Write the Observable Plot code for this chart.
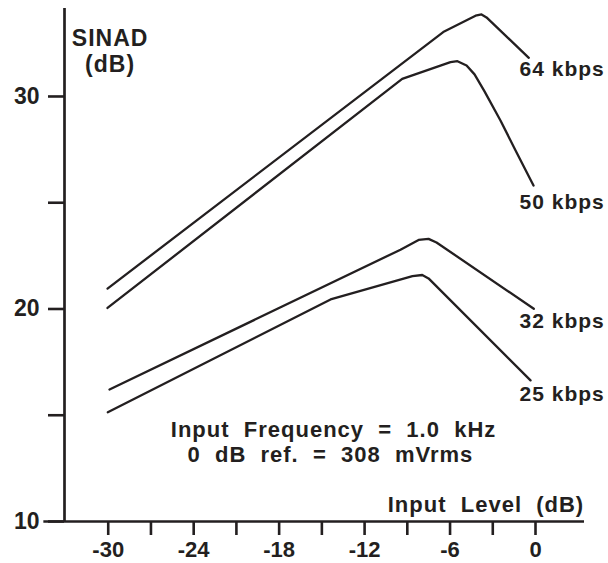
<!DOCTYPE html>
<html>
<head>
<meta charset="utf-8">
<script src="https://cdn.jsdelivr.net/npm/d3@7"></script>
<script src="https://cdn.jsdelivr.net/npm/@observablehq/plot@0.6"></script>
<style>
  html, body { margin: 0; padding: 0; background: #fff; }
  svg text { white-space: pre; }
  svg g[aria-label="text"] text { letter-spacing: 1px; }
</style>
</head>
<body>
<div id="chart"></div>
<script>
// Series (bit rates) and their curves: input level (dB) vs SINAD (dB)
const series = ["64 kbps", "50 kbps", "32 kbps", "25 kbps"];
const level64 = [-30.05, -6.48, -4.21, -3.79, -3.44, -0.47];
const sinad64 = [20.96, 33.03, 33.80, 33.86, 33.72, 31.82];
const level50 = [-30.05, -9.36, -5.97, -5.48, -4.84, -4.28, -3.58, -2.46, -1.40, -0.14];
const sinad50 = [20.05, 30.83, 31.62, 31.66, 31.46, 31.04, 30.24, 28.87, 27.46, 25.81];
const level32 = [-29.91, -9.48, -8.21, -7.51, -6.95, -0.12];
const sinad32 = [16.21, 22.79, 23.25, 23.30, 23.13, 20.01];
const level25 = [-30.03, -14.39, -8.64, -7.95, -7.51, -0.35];
const sinad25 = [15.14, 20.45, 21.55, 21.60, 21.44, 16.64];

// Series label anchor positions (data coords)
const labelLevel = [-1.12, -1.12, -1.12, -1.12];
const labelSinad = [31.26, 25.00, 19.44, 16.01];

// Axis ticks
const xTicks = [-30, -27, -24, -21, -18, -15, -12, -9, -6, -3, 0];
const xTickLabels = [-30, -24, -18, -12, -6, 0];
const yTicks = [10, 15, 20, 25, 30];
const yTickLabels = [10, 20, 30];

// Domains
const xDomain = [-33.07, 3.44];
const yDomain = [10, 34.14];

// Annotations
const yTitle = ["SINAD", "(dB)"];
const xTitle = "Input  Level  (dB)";
const note = ["Input  Frequency  =  1.0  kHz", "0  dB  ref.  =  308  mVrms"];

const levels = [level64, level50, level32, level25];
const sinads = [sinad64, sinad50, sinad32, sinad25];
const curves = series.flatMap((s, i) => levels[i].map((x, j) => ({series: s, level: x, sinad: sinads[i][j]})));
const labels = series.map((s, i) => ({series: s, level: labelLevel[i], sinad: labelSinad[i]}));

const ink = "#231f20";

const chart = Plot.plot({
  width: 608,
  height: 563,
  marginLeft: 64,
  marginRight: 24,
  marginTop: 8,
  marginBottom: 42,
  style: {fontFamily: "'Liberation Sans', Arial, Helvetica, sans-serif", fontWeight: "bold", background: "#fff", color: ink},
  x: {domain: xDomain},
  y: {domain: yDomain},
  marks: [
    Plot.axisX({ticks: xTicks, tickSize: 14, tickPadding: 6, fontSize: 22, strokeWidth: 2.6, stroke: ink,
      tickFormat: d => xTickLabels.includes(d) ? String(d) : "", label: null}),
    Plot.axisY({ticks: yTicks, tickSize: 16, tickPadding: 9, fontSize: 23, strokeWidth: 2.6, stroke: ink,
      tickFormat: d => yTickLabels.includes(d) ? String(d) : "", label: null}),
    Plot.ruleX([xDomain[0]], {y1: yDomain[0], y2: yDomain[1], stroke: ink, strokeWidth: 2.7}),
    Plot.ruleY([yDomain[0]], {x1: -34.52, x2: xDomain[1], stroke: ink, strokeWidth: 2.7}),
    Plot.line(curves, {x: "level", y: "sinad", z: "series", stroke: ink, strokeWidth: 2.3, strokeLinejoin: "round"}),
    Plot.text(labels, {x: "level", y: "sinad", text: "series", textAnchor: "start", fontSize: 21, fill: ink}),
    Plot.text([yTitle[0]], {x: -29.87, y: 32.72, text: d => d, fontSize: 23, fill: ink}),
    Plot.text([yTitle[1]], {x: -29.87, y: 31.52, text: d => d, fontSize: 23, fill: ink}),
    Plot.text([xTitle], {x: 3.42, y: 10.77, text: d => d, textAnchor: "end", fontSize: 22, fill: ink}),
    Plot.text([note[0]], {x: -14.18, y: 14.33, text: d => d, fontSize: 22, fill: ink}),
    Plot.text([note[1]], {x: -14.4, y: 13.12, text: d => d, fontSize: 22, fill: ink})
  ]
});
document.getElementById("chart").appendChild(chart);
</script>
</body>
</html>
